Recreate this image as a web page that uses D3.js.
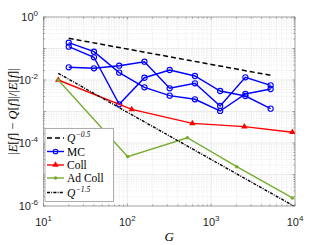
<!DOCTYPE html>
<html>
<head>
<meta charset="utf-8">
<script src="https://cdn.jsdelivr.net/npm/d3@7"></script>
<style>
body{margin:0;background:#fff}
svg{display:block}
</style>
</head>
<body>
<svg width="327" height="245"></svg>
<script>
// data
const mcG=[20,40,80,160,320,640,1280,2560,5120]
const mc1=[0.153,0.0791,0.0171,0.00586,0.00318,0.00244,0.00104,0.0036,0.00518]
const mc2=[0.114,0.0526,0.00169,0.0118,0.0208,0.0134,0.00448,0.0031,0.00123]
const mc3=[0.0253,0.0235,0.0284,0.0381,0.00545,0.00785,0.0015,0.0122,0.00679]
const collG=[15,113,597,2490,9300]
const collV=[0.01,0.00117,0.00042,0.00033,0.00022]
const adG=[15,101,520,2018,9300]
const adV=[0.01,0.000037,0.000147,0.0000177,0.0000018]
const q05G=[20,5120], q05V=[0.211,0.0141]
const q15G=[15,9600], q15V=[0.0163,0.00000101]
const xTicks=[10,100,1000,10000], yTicks=[1e-6,1e-4,1e-2,1]

let svg=d3.select('svg')
let m={l:43.5,r:295,t:17,b:206}
let x=d3.scaleLog().domain([10,10000]).range([m.l,m.r])
let y=d3.scaleLog().domain([1e-6,1]).range([m.b,m.t])

let defs=svg.append('defs')
defs.append('clipPath').attr('id','clip').append('rect')
  .attr('x',m.l).attr('y',m.t).attr('width',m.r-m.l).attr('height',m.b-m.t)

// grid
let minorX=[],minorY=[]
for(let e=1;e<4;e++) for(let k=2;k<10;k++) minorX.push(k*Math.pow(10,e))
for(let e=-6;e<0;e++) for(let k=2;k<10;k++) minorY.push(k*Math.pow(10,e))
let grid=svg.append('g')
grid.selectAll('.mx').data(minorX).enter().append('line')
  .attr('x1',d=>x(d)).attr('x2',d=>x(d)).attr('y1',m.t).attr('y2',m.b)
  .attr('stroke','#dcdcdc').attr('stroke-width',0.6).attr('stroke-dasharray','1,1.5')
grid.selectAll('.my').data(minorY).enter().append('line')
  .attr('y1',d=>y(d)).attr('y2',d=>y(d)).attr('x1',m.l).attr('x2',m.r)
  .attr('stroke','#dcdcdc').attr('stroke-width',0.6).attr('stroke-dasharray','1,1.5')
grid.selectAll('.gx').data(xTicks).enter().append('line')
  .attr('x1',d=>x(d)).attr('x2',d=>x(d)).attr('y1',m.t).attr('y2',m.b)
  .attr('stroke','#e2e2e2').attr('stroke-width',0.7)
grid.selectAll('.gy').data(d3.range(-6,1).map(e=>Math.pow(10,e))).enter().append('line')
  .attr('y1',d=>y(d)).attr('y2',d=>y(d)).attr('x1',m.l).attr('x2',m.r)
  .attr('stroke','#e2e2e2').attr('stroke-width',0.7)

// axes box + ticks
let ax=svg.append('g')
ax.append('rect').attr('x',m.l).attr('y',m.t).attr('width',m.r-m.l).attr('height',m.b-m.t)
  .attr('fill','none').attr('stroke','#9a9a9a').attr('stroke-width',0.8)
let tk=(vals,len)=>{
  vals.forEach(v=>{
    ax.append('line').attr('x1',x(v)).attr('x2',x(v)).attr('y1',m.b).attr('y2',m.b-len).attr('stroke','#6f6f6f').attr('stroke-width',0.6)
    ax.append('line').attr('x1',x(v)).attr('x2',x(v)).attr('y1',m.t).attr('y2',m.t+len).attr('stroke','#6f6f6f').attr('stroke-width',0.6)
  })
}
tk(xTicks,2.5); tk(minorX,1.5)
let tky=(vals,len)=>{
  vals.forEach(v=>{
    ax.append('line').attr('y1',y(v)).attr('y2',y(v)).attr('x1',m.l).attr('x2',m.l+len).attr('stroke','#6f6f6f').attr('stroke-width',0.6)
    ax.append('line').attr('y1',y(v)).attr('y2',y(v)).attr('x1',m.r).attr('x2',m.r-len).attr('stroke','#6f6f6f').attr('stroke-width',0.6)
  })
}
tky(d3.range(-6,1).map(e=>Math.pow(10,e)),2.5); tky(minorY,1.5)

// tick labels
let sans='Liberation Sans, Arial, sans-serif'
xTicks.forEach(v=>{
  let t=svg.append('text').attr('x',x(v)).attr('y',226).attr('text-anchor','middle')
    .attr('font-family',sans).attr('font-size',11).attr('fill','#262626')
  t.append('tspan').text('10')
  t.append('tspan').attr('dy',-5).attr('font-size',8).text(Math.round(Math.log10(v)))
})
yTicks.forEach(v=>{
  let t=svg.append('text').attr('x',38).attr('y',y(v)+4).attr('text-anchor','end')
    .attr('font-family',sans).attr('font-size',11).attr('fill','#262626')
  t.append('tspan').text('10')
  t.append('tspan').attr('dy',-5).attr('font-size',8).text(Math.round(Math.log10(v)))
})

// axis labels
let serif='Liberation Serif, Times New Roman, serif'
svg.append('text').attr('x',(m.l+m.r)/2).attr('y',241).attr('text-anchor','middle')
  .attr('font-family',serif).attr('font-style','italic').attr('font-size',13).text('G')
let yl=svg.append('text').attr('transform','translate(17,'+((m.t+m.b)/2)+') rotate(-90)')
  .attr('text-anchor','middle').attr('font-family',serif).attr('font-size',12.5)
;[['|',0],['E',1],['[',0],['f',1],[']',0],[' − ',0],['Q',1],['[',0],['f',1],[']|/|',0],['E',1],['[',0],['f',1],[']|',0]]
  .forEach(p=>yl.append('tspan').attr('font-style',p[1]?'italic':'normal').text(p[0]))

// series
let line=d3.line().x(d=>x(d[0])).y(d=>y(d[1]))
let plot=svg.append('g').attr('clip-path','url(#clip)')
let zip=(a,b)=>a.map((g,i)=>[g,b[i]])

plot.append('path').datum(zip(q05G,q05V)).attr('d',line).attr('fill','none')
  .attr('stroke','#000').attr('stroke-width',1.5).attr('stroke-dasharray','5,3')

;[mc1,mc2,mc3].forEach(s=>{
  let pts=zip(mcG,s)
  plot.append('path').datum(pts).attr('d',line).attr('fill','none').attr('stroke','#0000ff').attr('stroke-width',1.4)
  plot.selectAll(null).data(pts).enter().append('circle')
    .attr('cx',d=>x(d[0])).attr('cy',d=>y(d[1])).attr('r',2.6)
    .attr('fill','none').attr('stroke','#0000ff').attr('stroke-width',1.1)
})

let coll=zip(collG,collV)
plot.append('path').datum(coll).attr('d',line).attr('fill','none').attr('stroke','#ff0000').attr('stroke-width',1.4)
let tri=d3.symbol().type(d3.symbolTriangle).size(18)
plot.selectAll(null).data(coll).enter().append('path').attr('d',tri)
  .attr('transform',d=>'translate('+x(d[0])+','+y(d[1])+')').attr('fill','#ff0000')

let ad=zip(adG,adV)
plot.append('path').datum(ad).attr('d',line).attr('fill','none').attr('stroke','#77ac30').attr('stroke-width',1.4)
plot.selectAll(null).data(ad).enter().append('circle')
  .attr('cx',d=>x(d[0])).attr('cy',d=>y(d[1])).attr('r',1.8).attr('fill','#77ac30')

plot.append('path').datum(zip(q15G,q15V)).attr('d',line).attr('fill','none')
  .attr('stroke','#000').attr('stroke-width',1.4).attr('stroke-dasharray','3,1.2,1,1.2')

// legend
let lg=svg.append('g')
lg.append('rect').attr('x',45).attr('y',128.5).attr('width',68.5).attr('height',73)
  .attr('fill','#fff').attr('stroke','#9a9a9a').attr('stroke-width',0.8)
let items=[
  {t:'Q',sup:'−0.5',c:'#000',dash:'5,3',y:138},
  {t:'MC',c:'#0000ff',mk:'o',y:151.5},
  {t:'Coll',c:'#ff0000',mk:'tri',y:165},
  {t:'Ad Coll',c:'#77ac30',mk:'dot',y:178},
  {t:'Q',sup:'−1.5',c:'#000',dash:'3,1.2,1,1.2',y:192.5}
]
items.forEach(it=>{
  lg.append('line').attr('x1',47).attr('x2',64).attr('y1',it.y).attr('y2',it.y)
    .attr('stroke',it.c).attr('stroke-width',1.4).attr('stroke-dasharray',it.dash||null)
  if(it.mk=='o') lg.append('circle').attr('cx',55.5).attr('cy',it.y).attr('r',2.3).attr('fill','none').attr('stroke',it.c).attr('stroke-width',1.1)
  if(it.mk=='tri') lg.append('path').attr('d',tri).attr('transform','translate(55.5,'+it.y+')').attr('fill',it.c)
  if(it.mk=='dot') lg.append('circle').attr('cx',55.5).attr('cy',it.y).attr('r',1.8).attr('fill',it.c)
  let t=lg.append('text').attr('x',67).attr('y',it.y+4).attr('font-family',serif).attr('font-size',11.5)
  if(it.sup){
    t.append('tspan').attr('font-style','italic').text(it.t)
    t.append('tspan').attr('dy',-5).attr('dx',0.5).attr('font-size',7.5).attr('font-style','italic').text(it.sup)
  } else t.text(it.t)
})
</script>
</body>
</html>
